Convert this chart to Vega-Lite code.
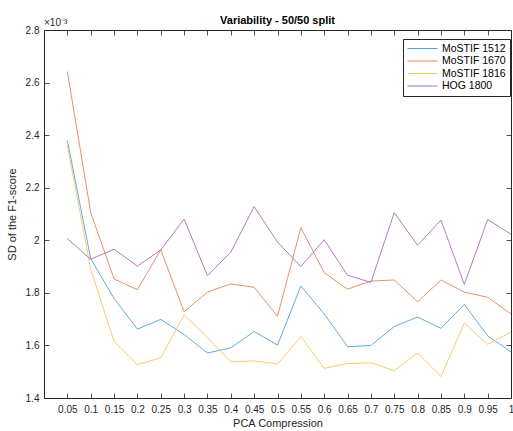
{
  "$schema": "https://vega.github.io/schema/vega-lite/v6.json",
  "width": 467,
  "height": 368,
  "autosize": {"type": "none"},
  "padding": {"left": 44, "top": 30, "right": 2, "bottom": 33},
  "background": "white",
  "config": {
    "font": "Liberation Sans",
    "view": {"stroke": "#262626", "strokeWidth": 1},
    "axis": {"domainColor": "#262626", "tickColor": "#262626", "labelColor": "#262626", "titleColor": "#262626", "labelFontSize": 10, "titleFontSize": 11, "titleFontWeight": "normal", "grid": false, "tickSize": -5, "tickWidth": 0.8}
  },
  "title": {"text": "Variability - 50/50 split", "fontSize": 11, "fontWeight": "bold", "color": "#000000", "offset": -8, "anchor": "middle"},
  "data": {"values": [
    {"pca": 0.05, "series": "MoSTIF 1512", "sd": 2.38},
    {"pca": 0.1, "series": "MoSTIF 1512", "sd": 1.93},
    {"pca": 0.15, "series": "MoSTIF 1512", "sd": 1.779},
    {"pca": 0.2, "series": "MoSTIF 1512", "sd": 1.662},
    {"pca": 0.25, "series": "MoSTIF 1512", "sd": 1.699},
    {"pca": 0.3, "series": "MoSTIF 1512", "sd": 1.642},
    {"pca": 0.35, "series": "MoSTIF 1512", "sd": 1.571},
    {"pca": 0.4, "series": "MoSTIF 1512", "sd": 1.591},
    {"pca": 0.45, "series": "MoSTIF 1512", "sd": 1.653},
    {"pca": 0.5, "series": "MoSTIF 1512", "sd": 1.601},
    {"pca": 0.55, "series": "MoSTIF 1512", "sd": 1.826},
    {"pca": 0.6, "series": "MoSTIF 1512", "sd": 1.72},
    {"pca": 0.65, "series": "MoSTIF 1512", "sd": 1.595},
    {"pca": 0.7, "series": "MoSTIF 1512", "sd": 1.6},
    {"pca": 0.75, "series": "MoSTIF 1512", "sd": 1.672},
    {"pca": 0.8, "series": "MoSTIF 1512", "sd": 1.708},
    {"pca": 0.85, "series": "MoSTIF 1512", "sd": 1.665},
    {"pca": 0.9, "series": "MoSTIF 1512", "sd": 1.756},
    {"pca": 0.95, "series": "MoSTIF 1512", "sd": 1.637},
    {"pca": 1, "series": "MoSTIF 1512", "sd": 1.575},
    {"pca": 0.05, "series": "MoSTIF 1670", "sd": 2.642},
    {"pca": 0.1, "series": "MoSTIF 1670", "sd": 2.106},
    {"pca": 0.15, "series": "MoSTIF 1670", "sd": 1.853},
    {"pca": 0.2, "series": "MoSTIF 1670", "sd": 1.812},
    {"pca": 0.25, "series": "MoSTIF 1670", "sd": 1.964},
    {"pca": 0.3, "series": "MoSTIF 1670", "sd": 1.728},
    {"pca": 0.35, "series": "MoSTIF 1670", "sd": 1.803},
    {"pca": 0.4, "series": "MoSTIF 1670", "sd": 1.834},
    {"pca": 0.45, "series": "MoSTIF 1670", "sd": 1.821},
    {"pca": 0.5, "series": "MoSTIF 1670", "sd": 1.711},
    {"pca": 0.55, "series": "MoSTIF 1670", "sd": 2.048},
    {"pca": 0.6, "series": "MoSTIF 1670", "sd": 1.877},
    {"pca": 0.65, "series": "MoSTIF 1670", "sd": 1.814},
    {"pca": 0.7, "series": "MoSTIF 1670", "sd": 1.845},
    {"pca": 0.75, "series": "MoSTIF 1670", "sd": 1.849},
    {"pca": 0.8, "series": "MoSTIF 1670", "sd": 1.766},
    {"pca": 0.85, "series": "MoSTIF 1670", "sd": 1.849},
    {"pca": 0.9, "series": "MoSTIF 1670", "sd": 1.803},
    {"pca": 0.95, "series": "MoSTIF 1670", "sd": 1.783},
    {"pca": 1, "series": "MoSTIF 1670", "sd": 1.72},
    {"pca": 0.05, "series": "MoSTIF 1816", "sd": 2.36},
    {"pca": 0.1, "series": "MoSTIF 1816", "sd": 1.89},
    {"pca": 0.15, "series": "MoSTIF 1816", "sd": 1.615},
    {"pca": 0.2, "series": "MoSTIF 1816", "sd": 1.527},
    {"pca": 0.25, "series": "MoSTIF 1816", "sd": 1.553},
    {"pca": 0.3, "series": "MoSTIF 1816", "sd": 1.716},
    {"pca": 0.35, "series": "MoSTIF 1816", "sd": 1.63},
    {"pca": 0.4, "series": "MoSTIF 1816", "sd": 1.538},
    {"pca": 0.45, "series": "MoSTIF 1816", "sd": 1.541},
    {"pca": 0.5, "series": "MoSTIF 1816", "sd": 1.529},
    {"pca": 0.55, "series": "MoSTIF 1816", "sd": 1.634},
    {"pca": 0.6, "series": "MoSTIF 1816", "sd": 1.513},
    {"pca": 0.65, "series": "MoSTIF 1816", "sd": 1.531},
    {"pca": 0.7, "series": "MoSTIF 1816", "sd": 1.534},
    {"pca": 0.75, "series": "MoSTIF 1816", "sd": 1.504},
    {"pca": 0.8, "series": "MoSTIF 1816", "sd": 1.571},
    {"pca": 0.85, "series": "MoSTIF 1816", "sd": 1.482},
    {"pca": 0.9, "series": "MoSTIF 1816", "sd": 1.685},
    {"pca": 0.95, "series": "MoSTIF 1816", "sd": 1.604},
    {"pca": 1, "series": "MoSTIF 1816", "sd": 1.651},
    {"pca": 0.05, "series": "HOG 1800", "sd": 2.006},
    {"pca": 0.1, "series": "HOG 1800", "sd": 1.928},
    {"pca": 0.15, "series": "HOG 1800", "sd": 1.966},
    {"pca": 0.2, "series": "HOG 1800", "sd": 1.902},
    {"pca": 0.25, "series": "HOG 1800", "sd": 1.963},
    {"pca": 0.3, "series": "HOG 1800", "sd": 2.081},
    {"pca": 0.35, "series": "HOG 1800", "sd": 1.865},
    {"pca": 0.4, "series": "HOG 1800", "sd": 1.955},
    {"pca": 0.45, "series": "HOG 1800", "sd": 2.128},
    {"pca": 0.5, "series": "HOG 1800", "sd": 1.993},
    {"pca": 0.55, "series": "HOG 1800", "sd": 1.9},
    {"pca": 0.6, "series": "HOG 1800", "sd": 2.002},
    {"pca": 0.65, "series": "HOG 1800", "sd": 1.867},
    {"pca": 0.7, "series": "HOG 1800", "sd": 1.84},
    {"pca": 0.75, "series": "HOG 1800", "sd": 2.105},
    {"pca": 0.8, "series": "HOG 1800", "sd": 1.981},
    {"pca": 0.85, "series": "HOG 1800", "sd": 2.077},
    {"pca": 0.9, "series": "HOG 1800", "sd": 1.832},
    {"pca": 0.95, "series": "HOG 1800", "sd": 2.079},
    {"pca": 1, "series": "HOG 1800", "sd": 2.023}
  ]},
  "layer": [
    {
      "mark": {"type": "line", "strokeWidth": 0.9, "clip": true},
      "encoding": {
        "x": {"field": "pca", "type": "quantitative", "scale": {"domain": [0, 1], "nice": false, "zero": false},
          "axis": {"values": [0.05,0.1,0.15,0.2,0.25,0.3,0.35,0.4,0.45,0.5,0.55,0.6,0.65,0.7,0.75,0.8,0.85,0.9,0.95,1], "format": "~g", "title": "PCA Compression", "labelPadding": 11, "titlePadding": 3, "labelFlush": false, "domain": false}},
        "y": {"field": "sd", "type": "quantitative", "scale": {"domain": [1.4, 2.8], "nice": false, "zero": false},
          "axis": {"values": [1.4,1.6,1.8,2,2.2,2.4,2.6,2.8], "format": "~g", "title": "SD of the F1-score", "labelPadding": 10, "titlePadding": 8, "labelFlush": false, "domain": false}},
        "color": {"field": "series", "type": "nominal",
          "scale": {"domain": ["MoSTIF 1512", "MoSTIF 1670", "MoSTIF 1816", "HOG 1800"], "range": ["#4BA3DC", "#E9825A", "#F4C75A", "#A66FBA"]},
          "legend": {"title": null, "orient": "none", "legendX": 359, "legendY": 9, "symbolType": "M-1,0H5", "symbolSize": 100, "symbolStrokeWidth": 1, "symbolFillColor": "transparent", "labelFontSize": 10.5, "labelColor": "#000000", "strokeColor": "#262626", "fillColor": "white", "padding": 4, "rowPadding": 1.5, "labelOffset": 24}
        }
      }
    },
    {
      "mark": {"type": "line", "strokeOpacity": 0},
      "encoding": {
        "x": {"field": "pca", "type": "quantitative", "axis": {"orient": "top", "values": [0.05,0.1,0.15,0.2,0.25,0.3,0.35,0.4,0.45,0.5,0.55,0.6,0.65,0.7,0.75,0.8,0.85,0.9,0.95,1], "labels": false, "title": null, "domain": false}},
        "y": {"field": "sd", "type": "quantitative", "axis": {"orient": "right", "values": [1.4,1.6,1.8,2,2.2,2.4,2.6,2.8], "labels": false, "title": null, "domain": false}},
        "detail": {"field": "series"}
      }
    },
    {
      "data": {"values": [{"pca": 0, "sd": 2.8, "label": "×10⁻³"}]},
      "mark": {"type": "text", "align": "left", "baseline": "bottom", "dy": -2, "fontSize": 10, "color": "#262626"},
      "encoding": {
        "x": {"field": "pca", "type": "quantitative", "axis": null},
        "y": {"field": "sd", "type": "quantitative", "axis": null},
        "text": {"field": "label"}
      }
    }
  ],
  "resolve": {"axis": {"x": "independent", "y": "independent"}}
}
